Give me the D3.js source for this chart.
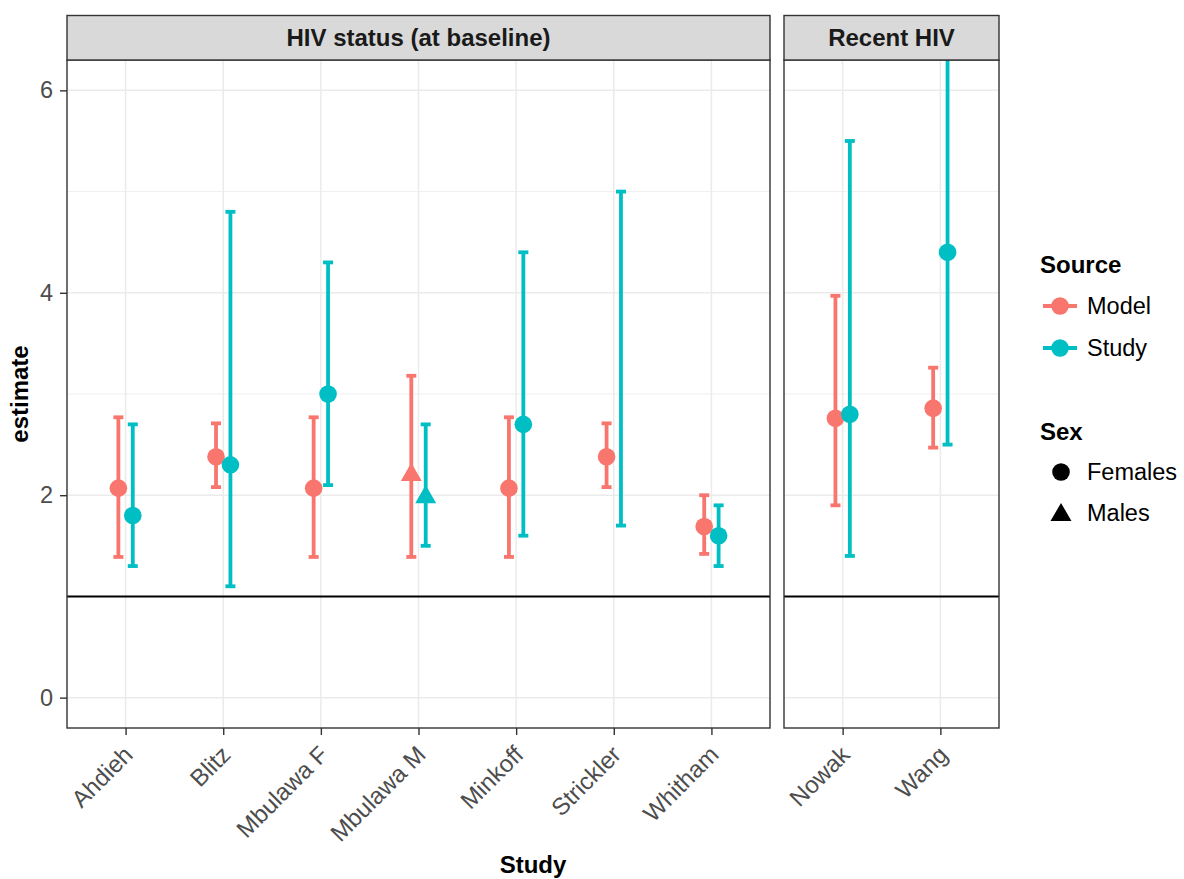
<!DOCTYPE html>
<html>
<head>
<meta charset="utf-8">
<script src="https://cdn.jsdelivr.net/npm/d3@7"></script>
<style>
  html, body { margin: 0; padding: 0; background: #fff; }
  svg { display: block; font-family: "Liberation Sans", Arial, sans-serif; }
</style>
</head>
<body>
<svg id="chart" width="1184" height="879"></svg>
<script>
// Studies, the facet each belongs to, and the sex of each cohort
const studies = ["Ahdieh", "Blitz", "Mbulawa F", "Mbulawa M", "Minkoff", "Strickler", "Whitham", "Nowak", "Wang"];
const facetOf = ["HIV status (at baseline)", "HIV status (at baseline)", "HIV status (at baseline)", "HIV status (at baseline)",
                 "HIV status (at baseline)", "HIV status (at baseline)", "HIV status (at baseline)", "Recent HIV", "Recent HIV"];
const sexOf = ["Females", "Females", "Females", "Males", "Females", "Females", "Females", "Females", "Females"];

// Model estimates with lower / upper bounds
const modelEst = [2.07, 2.38, 2.07, 2.22, 2.07, 2.38, 1.69, 2.76, 2.86];
const modelLow = [1.39, 2.08, 1.39, 1.39, 1.39, 2.08, 1.42, 1.90, 2.47];
const modelHigh = [2.77, 2.71, 2.77, 3.18, 2.77, 2.71, 2.00, 3.97, 3.26];

// Study-reported estimates with lower / upper bounds (Strickler reports no point estimate)
const studyEst = [1.80, 2.30, 3.00, 2.00, 2.70, null, 1.60, 2.80, 4.40];
const studyLow = [1.30, 1.10, 2.10, 1.50, 1.60, 1.70, 1.30, 1.40, 2.50];
const studyHigh = [2.70, 4.80, 4.30, 2.70, 4.40, 5.00, 1.90, 5.50, 8.30];

const facets = ["HIV status (at baseline)", "Recent HIV"];
const sources = ["Model", "Study"];
const sexes = ["Females", "Males"];
const yTicks = [0, 2, 4, 6];
const yMinor = [1, 3, 5];
const refLine = 1;

const colors = { Model: "#F8766D", Study: "#00BFC4" };

const rows = [];
studies.forEach((s, i) => {
  rows.push({ study: s, facet: facetOf[i], sex: sexOf[i], source: "Model", est: modelEst[i], lo: modelLow[i], hi: modelHigh[i] });
  rows.push({ study: s, facet: facetOf[i], sex: sexOf[i], source: "Study", est: studyEst[i], lo: studyLow[i], hi: studyHigh[i] });
});

const svg = d3.select("#chart");

const panelTop = 60, panelBottom = 728, stripTop = 15.5;
const panels = [
  { name: facets[0], x0: 67, x1: 770 },
  { name: facets[1], x0: 784, x1: 999 }
];

const y = d3.scaleLinear().domain([-0.3, 6.3]).range([panelBottom, panelTop]);
const dodge = 7.2;
const capHalf = 5;
const symCircle = d3.symbol().type(d3.symbolCircle).size(Math.PI * 8.8 * 8.8);
const symTri = d3.symbol().type(d3.symbolTriangle).size(190);

panels.forEach((p, pi) => {
  const cats = studies.filter((s, i) => facetOf[i] === p.name);
  const x = d3.scalePoint().domain(cats).range([p.x0, p.x1]).padding(0.6);
  const g = svg.append("g");

  const clipId = "clip" + pi;
  svg.append("clipPath").attr("id", clipId)
    .append("rect").attr("x", p.x0).attr("y", panelTop).attr("width", p.x1 - p.x0).attr("height", panelBottom - panelTop);

  // panel background and grid
  g.append("rect").attr("x", p.x0).attr("y", panelTop).attr("width", p.x1 - p.x0).attr("height", panelBottom - panelTop).attr("fill", "#fff");
  g.selectAll(".minor").data(yMinor).join("line")
    .attr("x1", p.x0).attr("x2", p.x1).attr("y1", d => y(d)).attr("y2", d => y(d))
    .attr("stroke", "#EBEBEB").attr("stroke-width", 0.8);
  g.selectAll(".major").data(yTicks).join("line")
    .attr("x1", p.x0).attr("x2", p.x1).attr("y1", d => y(d)).attr("y2", d => y(d))
    .attr("stroke", "#EBEBEB").attr("stroke-width", 1.5);
  g.selectAll(".vgrid").data(cats).join("line")
    .attr("x1", d => x(d)).attr("x2", d => x(d)).attr("y1", panelTop).attr("y2", panelBottom)
    .attr("stroke", "#EBEBEB").attr("stroke-width", 1.5);

  // reference line at 1
  g.append("line").attr("x1", p.x0).attr("x2", p.x1).attr("y1", y(refLine)).attr("y2", y(refLine))
    .attr("stroke", "#000").attr("stroke-width", 2);

  // error bars and points
  const data = rows.filter(r => r.facet === p.name);
  const xp = r => x(r.study) + (r.source === "Model" ? -dodge : dodge);
  const marks = g.append("g").attr("clip-path", `url(#${clipId})`);
  const bars = marks.selectAll(".eb").data(data).join("g")
    .attr("stroke", d => colors[d.source]).attr("stroke-width", 3.8).attr("fill", "none");
  bars.append("line").attr("x1", xp).attr("x2", xp).attr("y1", d => y(d.lo)).attr("y2", d => y(d.hi));
  bars.append("line").attr("x1", d => xp(d) - capHalf).attr("x2", d => xp(d) + capHalf).attr("y1", d => y(d.hi)).attr("y2", d => y(d.hi));
  bars.append("line").attr("x1", d => xp(d) - capHalf).attr("x2", d => xp(d) + capHalf).attr("y1", d => y(d.lo)).attr("y2", d => y(d.lo));
  marks.selectAll(".pt").data(data.filter(d => d.est != null)).join("path")
    .attr("d", d => d.sex === "Males" ? symTri() : symCircle())
    .attr("transform", d => `translate(${xp(d)},${y(d.est) + (d.sex === "Males" ? 2 : 0)})`)
    .attr("fill", d => colors[d.source]);

  // panel border
  g.append("rect").attr("x", p.x0).attr("y", panelTop).attr("width", p.x1 - p.x0).attr("height", panelBottom - panelTop)
    .attr("fill", "none").attr("stroke", "#333").attr("stroke-width", 1.4);

  // strip
  g.append("rect").attr("x", p.x0).attr("y", stripTop).attr("width", p.x1 - p.x0).attr("height", panelTop - stripTop)
    .attr("fill", "#D9D9D9").attr("stroke", "#333").attr("stroke-width", 1.4);
  g.append("text").attr("x", (p.x0 + p.x1) / 2).attr("y", (stripTop + panelTop) / 2).attr("dy", "0.36em")
    .attr("text-anchor", "middle").attr("font-size", 24).attr("font-weight", "bold").attr("fill", "#1A1A1A")
    .text(p.name);

  // x axis
  const xa = svg.append("g").attr("transform", `translate(0,${panelBottom})`)
    .call(d3.axisBottom(x).tickSize(7).tickSizeOuter(0));
  xa.select(".domain").remove();
  xa.selectAll(".tick line").attr("stroke", "#333").attr("stroke-width", 1.4);
  xa.selectAll(".tick text")
    .attr("font-size", 24).attr("fill", "#4D4D4D").attr("font-family", "Liberation Sans, Arial, sans-serif")
    .attr("text-anchor", "end").attr("y", 0).attr("dy", "0.72em")
    .attr("transform", "translate(-4,16) rotate(-45)");

  // y axis on the first panel
  if (pi === 0) {
    const ya = svg.append("g").attr("transform", `translate(${p.x0},0)`)
      .call(d3.axisLeft(y).tickValues(yTicks).tickFormat(d3.format("d")).tickSize(7).tickPadding(7));
    ya.select(".domain").remove();
    ya.selectAll(".tick line").attr("stroke", "#333").attr("stroke-width", 1.4);
    ya.selectAll(".tick text").attr("font-size", 23.5).attr("fill", "#4D4D4D")
      .attr("font-family", "Liberation Sans, Arial, sans-serif");
  }
});

// axis titles
svg.append("text").attr("x", (67 + 999) / 2).attr("y", 873).attr("text-anchor", "middle")
  .attr("font-size", 24).attr("font-weight", "bold").text("Study");
svg.append("text").attr("transform", `translate(28,${(panelTop + panelBottom) / 2}) rotate(-90)`).attr("text-anchor", "middle")
  .attr("font-size", 24).attr("font-weight", "bold").text("estimate");

// legend: Source
const lg = svg.append("g");
lg.append("text").attr("x", 1040).attr("y", 273).attr("font-size", 24).attr("font-weight", "bold").text("Source");
sources.forEach((s, i) => {
  const cy = 306 + i * 42;
  lg.append("line").attr("x1", 1043).attr("x2", 1077).attr("y1", cy).attr("y2", cy)
    .attr("stroke", colors[s]).attr("stroke-width", 3.8);
  lg.append("path").attr("d", symCircle()).attr("transform", `translate(1060,${cy})`).attr("fill", colors[s]);
  lg.append("text").attr("x", 1087).attr("y", cy).attr("dy", "0.36em").attr("font-size", 23.5).text(s);
});

// legend: Sex
lg.append("text").attr("x", 1040).attr("y", 440).attr("font-size", 24).attr("font-weight", "bold").text("Sex");
sexes.forEach((s, i) => {
  const cy = 472 + i * 41;
  lg.append("path").attr("d", s === "Males" ? symTri() : symCircle())
    .attr("transform", `translate(1061,${cy + (s === "Males" ? 2 : 0)})`).attr("fill", "#000");
  lg.append("text").attr("x", 1087).attr("y", cy).attr("dy", "0.36em").attr("font-size", 23.5).text(s);
});
</script>
</body>
</html>
